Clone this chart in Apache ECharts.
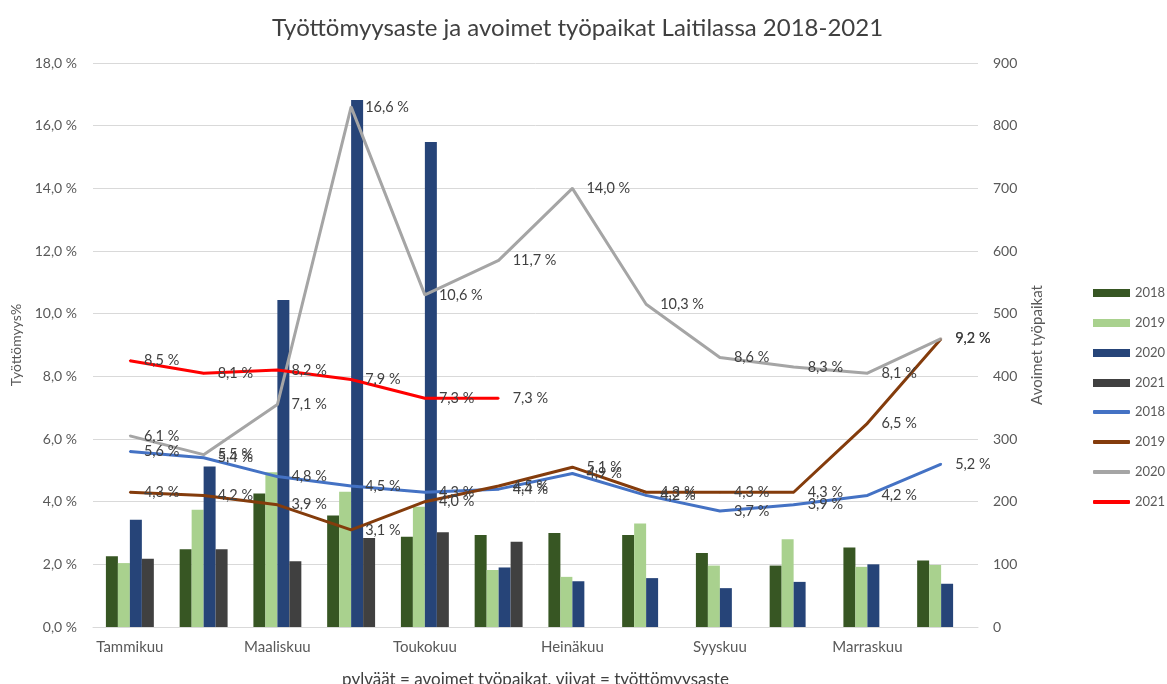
<!DOCTYPE html>
<html>
<head>
<meta charset="utf-8">
<script src="https://cdn.jsdelivr.net/npm/echarts@6/dist/echarts.min.js"></script>
<style>
html,body{margin:0;padding:0;background:#fff;}
#c{width:1167px;height:684px;}
</style>
</head>
<body>
<div id="c"></div>
<script>
const months = ['Tammikuu','Helmikuu','Maaliskuu','Huhtikuu','Toukokuu','Kesäkuu','Heinäkuu','Elokuu','Syyskuu','Lokakuu','Marraskuu','Joulukuu'];
// Avoimet työpaikat (bars, right axis)
const jobs2018 = [113,124,213,178,144,147,150,147,118,98,127,106];
const jobs2019 = [102,187,247,216,192,91,80,165,98,140,96,99];
const jobs2020 = [171,256,522,841,774,95,73,78,62,72,100,69];
const jobs2021 = [109,124,105,142,151,136,null,null,null,null,null,null];
// Työttömyysaste % (lines, left axis)
const rate2018 = [5.6,5.4,4.8,4.5,4.3,4.4,4.9,4.2,3.7,3.9,4.2,5.2];
const rate2019 = [4.3,4.2,3.9,3.1,4.0,4.5,5.1,4.3,4.3,4.3,6.5,9.2];
const rate2020 = [6.1,5.5,7.1,16.6,10.6,11.7,14.0,10.3,8.6,8.3,8.1,9.2];
const rate2021 = [8.5,8.1,8.2,7.9,7.3,7.3,null,null,null,null,null,null];
const leftTicks = {min:0, max:18, interval:2};
const rightTicks = {min:0, max:900, interval:100};

const FONT = 'Lato';
const txt = '#595959';
const fmtPct = v => v.toFixed(1).replace('.', ',') + ' %';

function barSeries(name, data, color){
  return {name, type:'bar', yAxisIndex:1, data, barGap:'0%', barCategoryGap:'35%',
    itemStyle:{color}, emphasis:{disabled:true}};
}
function lineSeries(name, data, color){
  return {name, type:'line', yAxisIndex:0, data, symbol:'circle', symbolSize:2, showSymbol:true,
    lineStyle:{color, width:3}, itemStyle:{color},
    label:{show:true, position:'right', distance:13, color:'#404040', fontFamily:FONT, fontSize:14.5,
      formatter:p => p.value==null ? '' : fmtPct(p.value)},
    emphasis:{disabled:true}};
}

const legendText = {fontFamily:FONT, fontSize:13, color:txt, lineHeight:14};
const chart = echarts.init(document.getElementById('c'), null, {renderer:'canvas'});
chart.setOption({
  animation:false,
  backgroundColor:'#fff',
  textStyle:{fontFamily:FONT},
  title:{text:'Työttömyysaste ja avoimet työpaikat Laitilassa 2018-2021', left:272, top:16, padding:0,
    textStyle:{fontFamily:FONT, fontSize:24, fontWeight:'normal', color:'#404040'}},
  grid:{left:93, right:189, top:63, bottom:57, containLabel:false, outerBoundsMode:'none'},
  legend:[
    {orient:'vertical', left:1093, top:286, padding:0, itemWidth:37, itemHeight:8, itemGap:16,
      textStyle:legendText, selectedMode:false,
      data:[{name:'2018', icon:'rect'},{name:'2019', icon:'rect'},{name:'2020', icon:'rect'},{name:'2021', icon:'rect'}]},
    {orient:'vertical', left:1093, top:405, padding:0, itemWidth:37, itemHeight:4, itemGap:16,
      textStyle:legendText, selectedMode:false,
      data:[{name:'2018 ', icon:'roundRect'},{name:'2019 ', icon:'roundRect'},{name:'2020 ', icon:'roundRect'},{name:'2021 ', icon:'roundRect'}]}
  ],
  xAxis:{type:'category', data:months,
    name:'pylväät = avoimet työpaikat, viivat = työttömyysaste', nameLocation:'middle', nameGap:44,
    nameTextStyle:{fontFamily:FONT, fontSize:17, color:'#404040'},
    axisLine:{lineStyle:{color:'#D9D9D9'}}, axisTick:{show:false},
    axisLabel:{interval:1, color:txt, fontFamily:FONT, fontSize:15, margin:13}},
  yAxis:[
    {type:'value', min:leftTicks.min, max:leftTicks.max, interval:leftTicks.interval,
      name:'Työttömyys%', nameLocation:'middle', nameGap:66, nameRotate:90,
      nameTextStyle:{fontFamily:FONT, fontSize:14, color:txt},
      axisLine:{show:false}, axisTick:{show:false},
      axisLabel:{color:txt, fontFamily:FONT, fontSize:14, margin:16, formatter:v => fmtPct(v)},
      splitLine:{lineStyle:{color:'#D9D9D9'}}},
    {type:'value', min:rightTicks.min, max:rightTicks.max, interval:rightTicks.interval,
      name:'Avoimet työpaikat', nameLocation:'middle', nameGap:52, nameRotate:90,
      nameTextStyle:{fontFamily:FONT, fontSize:15, color:txt},
      axisLine:{show:false}, axisTick:{show:false},
      axisLabel:{color:txt, fontFamily:FONT, fontSize:14, margin:15},
      splitLine:{show:false}}
  ],
  series:[
    barSeries('2018', jobs2018, '#375623'),
    barSeries('2019', jobs2019, '#A9D18E'),
    barSeries('2020', jobs2020, '#264478'),
    barSeries('2021', jobs2021, '#404040'),
    lineSeries('2018 ', rate2018, '#4472C4'),
    lineSeries('2019 ', rate2019, '#843C0C'),
    lineSeries('2020 ', rate2020, '#A5A5A5'),
    lineSeries('2021 ', rate2021, '#FF0000')
  ]
});
</script>
</body>
</html>
